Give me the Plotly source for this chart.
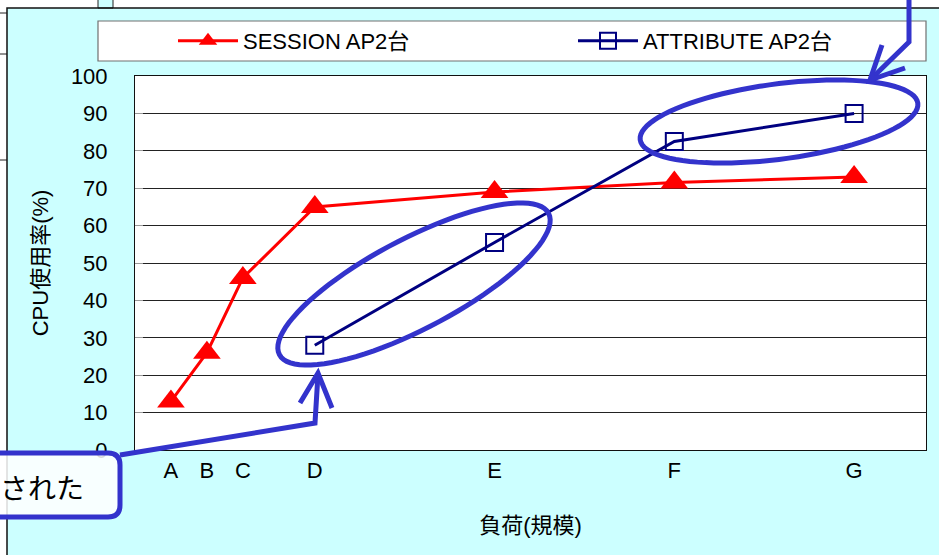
import numpy as np
import plotly.graph_objects as go

# ---- data -------------------------------------------------------------
load_labels = ["A", "B", "C", "D", "E", "F", "G"]
load_scale = [1, 2, 3, 5, 10, 15, 20]
session_cpu = [13, 26, 46, 65, 69, 71.5, 73]
attribute_load = [5, 10, 15, 20]
attribute_cpu = [28, 55.5, 82.5, 90]

y_ticks = list(range(0, 101, 10))

# ---- geometry helpers (pixel -> paper) --------------------------------
W, H = 939, 555
PL, PR, PT, PB = 135, 926, 76, 450


def px(x):
    return (x - PL) / (PR - PL)


def py(y):
    return (PB - y) / (PB - PT)


def poly(points, close=False):
    s = "M " + " L ".join(f"{px(x):.5f},{py(y):.5f}" for x, y in points)
    return s + (" Z" if close else "")


def ellipse(cx, cy, a, b, deg, n=90):
    th = np.radians(deg)
    t = np.linspace(0, 2 * np.pi, n, endpoint=False)
    xs = cx + a * np.cos(t) * np.cos(th) - b * np.sin(t) * np.sin(th)
    ys = cy - (a * np.cos(t) * np.sin(th) + b * np.sin(t) * np.cos(th))
    return poly(list(zip(xs, ys)), close=True)


def rounded_rect(x0, y0, x1, y1, r):
    def P(x, y):
        return f"{px(x):.5f},{py(y):.5f}"
    return (f"M {P(x0 + r, y0)} L {P(x1 - r, y0)} Q {P(x1, y0)} {P(x1, y0 + r)} "
            f"L {P(x1, y1 - r)} Q {P(x1, y1)} {P(x1 - r, y1)} "
            f"L {P(x0 + r, y1)} Q {P(x0, y1)} {P(x0, y1 - r)} "
            f"L {P(x0, y0 + r)} Q {P(x0, y0)} {P(x0 + r, y0)} Z")


FONT = "Liberation Sans, Arial, Noto Sans CJK JP, sans-serif"
CYAN = "#CCFFFF"
BLUE = "#3333CC"

fig = go.Figure()

fig.add_trace(go.Scatter(
    x=load_scale, y=session_cpu, name="SESSION AP2台",
    mode="lines+markers", legend="legend",
    line=dict(color="#FF0000", width=3),
    marker=dict(symbol="triangle-up", size=24, color="#FF0000"),
))
fig.add_trace(go.Scatter(
    x=attribute_load, y=attribute_cpu, name="ATTRIBUTE AP2台",
    mode="lines+markers", legend="legend2",
    line=dict(color="#000080", width=3),
    marker=dict(symbol="square-open", size=17, color="#000080",
                line=dict(width=2, color="#000080")),
))

shapes = []
# white surroundings outside the chart panel
shapes.append(dict(type="rect", xref="paper", yref="paper", layer="below",
                   x0=px(-5), x1=px(W + 5), y0=py(-5), y1=py(8),
                   fillcolor="white", line=dict(width=0)))
shapes.append(dict(type="rect", xref="paper", yref="paper", layer="below",
                   x0=px(-5), x1=px(7), y0=py(-5), y1=py(W),
                   fillcolor="white", line=dict(width=0)))
# small strip above the panel
shapes.append(dict(type="rect", xref="paper", yref="paper", layer="below",
                   x0=px(98), x1=px(113), y0=py(-5), y1=py(8),
                   fillcolor=CYAN, line=dict(color="#222", width=1)))
# thin lines at the left margin
for yy in (13, 54, 160):
    shapes.append(dict(type="line", xref="paper", yref="paper", layer="below",
                       x0=px(-2), x1=px(7), y0=py(yy), y1=py(yy),
                       line=dict(color="#222", width=1)))
# panel border
shapes.append(dict(type="rect", xref="paper", yref="paper", layer="below",
                   x0=px(7), x1=px(W + 10), y0=py(8), y1=py(H + 10),
                   fillcolor="rgba(0,0,0,0)", line=dict(color="#111", width=1.5)))
# legend box
shapes.append(dict(type="rect", xref="paper", yref="paper", layer="below",
                   x0=px(98), x1=px(926), y0=py(21), y1=py(61),
                   fillcolor="white", line=dict(color="#707070", width=1.2)))

# highlight ellipses
shapes.append(dict(type="path", xref="paper", yref="paper", layer="above",
                   path=ellipse(414, 284, 152, 45, 27.7),
                   line=dict(color=BLUE, width=5)))
shapes.append(dict(type="path", xref="paper", yref="paper", layer="above",
                   path=ellipse(779, 121.5, 140, 37.6, 7.5),
                   line=dict(color=BLUE, width=5)))
# arrows
shapes.append(dict(type="path", xref="paper", yref="paper", layer="above",
                   path=poly([(120, 455), (315, 423), (318, 374)]),
                   line=dict(color=BLUE, width=5)))
shapes.append(dict(type="path", xref="paper", yref="paper", layer="above",
                   path=poly([(300, 403), (318, 373), (332, 408)]),
                   line=dict(color=BLUE, width=5)))
shapes.append(dict(type="path", xref="paper", yref="paper", layer="above",
                   path=poly([(909, -5), (909, 42), (871, 79)]),
                   line=dict(color=BLUE, width=5)))
shapes.append(dict(type="path", xref="paper", yref="paper", layer="above",
                   path=poly([(882, 45), (870, 80), (905, 68)]),
                   line=dict(color=BLUE, width=5)))
# callout box
shapes.append(dict(type="path", xref="paper", yref="paper", layer="above",
                   path=rounded_rect(-30, 453, 120, 517, 12),
                   fillcolor="rgba(255,255,255,0.85)",
                   line=dict(color=BLUE, width=5)))

annotations = [
    dict(text="された", xref="paper", yref="paper", x=px(86), y=py(487),
         xanchor="right", yanchor="middle", showarrow=False,
         font=dict(family="Noto Sans CJK JP", size=28, color="black")),
]

legend_common = dict(orientation="h", xanchor="left", yanchor="middle",
                     y=py(41), bgcolor="rgba(0,0,0,0)", borderwidth=0,
                     itemwidth=60, font=dict(family=FONT, size=22))

fig.update_layout(
    width=W, height=H,
    margin=dict(l=PL, r=W - PR, t=PT, b=H - PB, pad=0, autoexpand=False),
    paper_bgcolor=CYAN,
    plot_bgcolor="white",
    font=dict(family=FONT, size=22, color="black"),
    shapes=shapes,
    annotations=annotations,
    showlegend=True,
    legend=dict(x=px(173), **legend_common),
    legend2=dict(x=px(573), **legend_common),
    xaxis=dict(
        range=[0, 22], tickvals=load_scale, ticktext=load_labels,
        showgrid=False, zeroline=False, ticks="",
        showline=True, linecolor="#111", linewidth=1, mirror=True,
        ticklabelstandoff=1,
        title=dict(text="負荷(規模)", standoff=35,
                   font=dict(family=FONT, size=22)),
    ),
    yaxis=dict(
        range=[0, 100], tickvals=y_ticks,
        showgrid=True, gridcolor="#222", gridwidth=1, zeroline=False,
        ticks="inside", ticklen=8, tickcolor="#999",
        showline=True, linecolor="#111", linewidth=1, mirror=True,
        ticklabelstandoff=22,
        title=dict(text="CPU使用率(%)", standoff=16,
                   font=dict(family=FONT, size=22)),
    ),
)

fig.write_html("out.html")
